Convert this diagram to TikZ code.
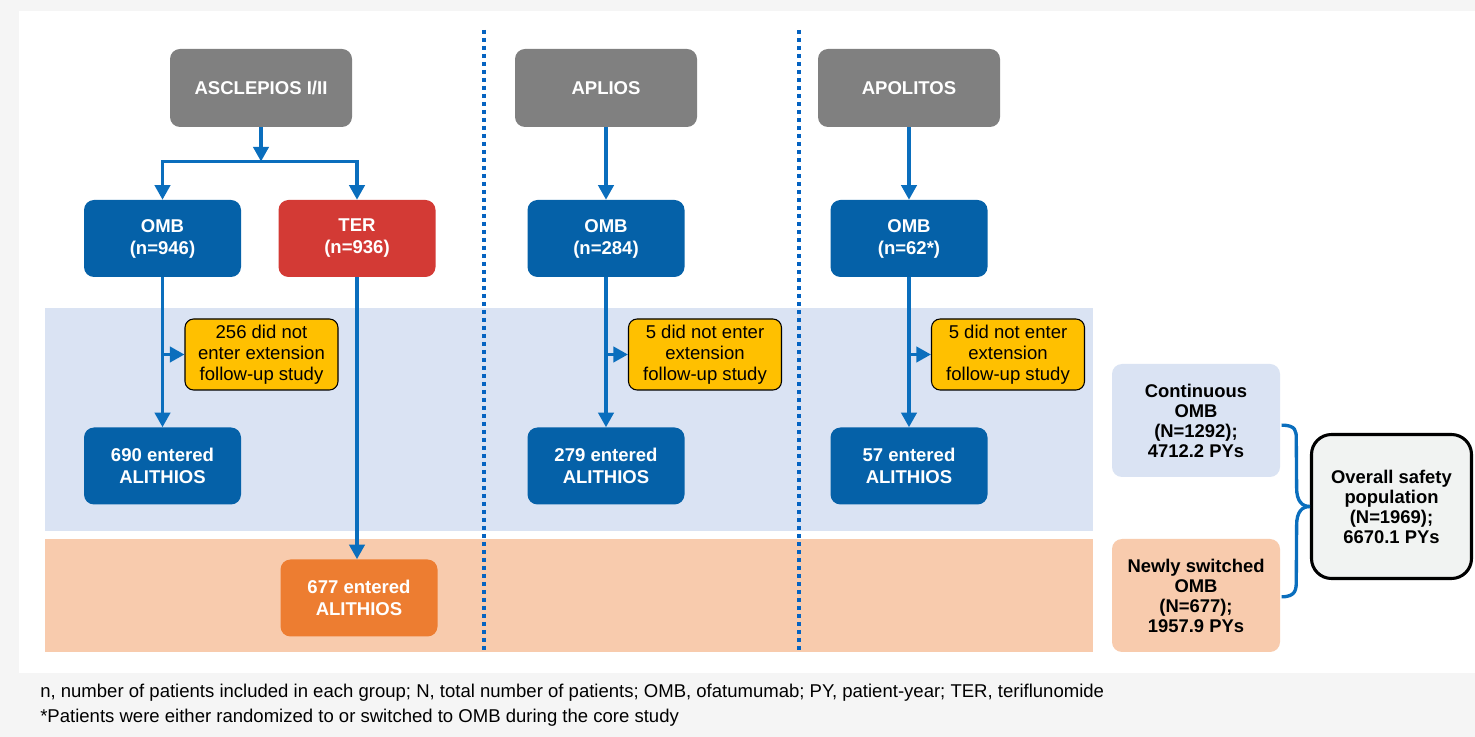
\documentclass[tikz,border=0pt]{standalone}
\usepackage{fontspec}
\setmainfont{Liberation Sans}
\usetikzlibrary{arrows.meta}
\definecolor{pagebg}{HTML}{F5F5F5}
\definecolor{bandblue}{HTML}{DAE3F3}
\definecolor{bandorange}{HTML}{F8CBAD}
\definecolor{boxgray}{HTML}{808080}
\definecolor{boxblue}{HTML}{0561A8}
\definecolor{boxred}{HTML}{D33A35}
\definecolor{boxorange}{HTML}{ED7D31}
\definecolor{boxyellow}{HTML}{FFC000}
\definecolor{arrowblue}{HTML}{0A6EBD}
\definecolor{dotblue}{HTML}{0563C1}
\definecolor{overallfill}{HTML}{F1F3F2}
\begin{document}
\begin{tikzpicture}[x=0.75pt,y=-0.75pt,
  base/.style={rounded corners=7.5pt, align=center, inner sep=0pt,
    font=\fontsize{13.9}{16.5}\selectfont\bfseries},
  studybox/.style={base, fill=boxgray, text=white, minimum width=136.5pt, minimum height=58.5pt},
  armbox/.style={base, text=white, minimum width=117.75pt, minimum height=57.75pt},
  notebox/.style={rounded corners=6.5pt, align=center, inner sep=0pt, draw=black, line width=0.8pt,
    fill=boxyellow, minimum width=114.75pt, minimum height=53.25pt,
    font=\fontsize{13.9}{15.75}\selectfont},
  popbox/.style={base, text=black, minimum width=126pt, minimum height=84.75pt,
    font=\fontsize{13.8}{15}\selectfont\bfseries},
  arr/.style={draw=arrowblue, line width=2.5pt, -{Triangle[length=11pt,width=11.5pt]}},
  sep/.style={draw=dotblue, line width=3pt, dash pattern=on 3pt off 3pt},
  brace/.style={draw=arrowblue, line width=2.5pt}
]
\useasboundingbox (0,0) rectangle (1475,737);
\fill[pagebg] (0,0) rectangle (1475,737);
\fill[white] (19,11) rectangle (1475,673);
\fill[bandblue] (45,308) rectangle (1093,531);
\fill[bandorange] (45,539) rectangle (1093,652);

\draw[sep] (484,30) -- (484,651);
\draw[sep] (799,30) -- (799,651);

% study boxes
\node[studybox] (asc) at (261,88) {ASCLEPIOS I/II};
\node[studybox] (apl) at (606,88) {APLIOS};
\node[studybox] (apo) at (909,88) {APOLITOS};

% arms
\node[armbox, fill=boxblue] (omb1) at (162.5,238.5) {OMB\\(n=946)};
\node[armbox, fill=boxred] (ter) at (357,238.5) {TER\\(n=936)};
\node[armbox, fill=boxblue] (omb2) at (606,238.5) {OMB\\(n=284)};
\node[armbox, fill=boxblue] (omb3) at (909,238.5) {OMB\\(n=62*)};

% not entered
\node[notebox] (n1) at (261.5,354.5) {256 did not\\enter extension\\follow-up study};
\node[notebox] (n2) at (705,354.5) {5 did not enter\\extension\\follow-up study};
\node[notebox] (n3) at (1008,354.5) {5 did not enter\\extension\\follow-up study};

% entered
\node[armbox, fill=boxblue] (e1) at (162.5,466) {690 entered\\ALITHIOS};
\node[armbox, fill=boxorange] (e2) at (359,598) {677 entered\\ALITHIOS};
\node[armbox, fill=boxblue] (e3) at (606,466) {279 entered\\ALITHIOS};
\node[armbox, fill=boxblue] (e4) at (909,466) {57 entered\\ALITHIOS};

% populations
\node[popbox, fill=bandblue] (cont) at (1196,420.5) {Continuous\\OMB\\(N=1292);\\4712.2 PYs};
\node[popbox, fill=bandorange] (newly) at (1196,595.5) {Newly switched\\OMB\\(N=677);\\1957.9 PYs};
\node[popbox, fill=overallfill, draw=black, line width=2.3pt, rounded corners=15pt,
  minimum width=120pt, minimum height=108pt, font=\fontsize{13.8}{15}\selectfont\bfseries]
  (all) at (1391.5,506.5) {Overall safety\\population\\(N=1969);\\6670.1 PYs};

% ASCLEPIOS split
\coordinate (br) at (261,161.5);
\draw[arr] (asc.south) -- (br);
\draw[arr] (br) -| (omb1.north);
\draw[arr] (br) -| (ter.north);
\draw[arr] (apl.south) -- (omb2.north);
\draw[arr] (apo.south) -- (omb3.north);

% down to entered
\draw[arr] (omb1.south) -- (e1.north);
\draw[arr] (ter.south) -- (ter.south |- e2.north);
\draw[arr] (omb2.south) -- (e3.north);
\draw[arr] (omb3.south) -- (e4.north);

% side arrows
\draw[arr] (omb1.south |- n1.west) -- (n1.west);
\draw[arr] (omb2.south |- n2.west) -- (n2.west);
\draw[arr] (omb3.south |- n3.west) -- (n3.west);

% brace
\draw[brace] ([xshift=1pt,yshift=-3.5pt]cont.east) .. controls ([xshift=12pt,yshift=-3.5pt]cont.east) and ([xshift=12pt,yshift=-8pt]cont.east) .. ([xshift=12pt,yshift=-14pt]cont.east)
  -- ([xshift=-10pt,yshift=14pt]all.west) .. controls ([xshift=-10pt,yshift=4pt]all.west) and ([xshift=-6pt]all.west) .. (all.west);
\draw[brace] ([xshift=1pt,yshift=-1pt]newly.east) .. controls ([xshift=12pt,yshift=-1pt]newly.east) and ([xshift=12pt,yshift=5pt]newly.east) .. ([xshift=12pt,yshift=11pt]newly.east)
  -- ([xshift=-10pt,yshift=-14pt]all.west) .. controls ([xshift=-10pt,yshift=-4pt]all.west) and ([xshift=-6pt]all.west) .. (all.west);

% footnotes
\node[anchor=west, inner sep=0pt, font=\fontsize{13.9}{16}\selectfont] (fn1) at (40,693)
  {n, number of patients included in each group; N, total number of patients; OMB, ofatumumab; PY, patient-year; TER, teriflunomide};
\node[anchor=west, inner sep=0pt, font=\fontsize{13.9}{16}\selectfont] (fn2) at (40,718)
  {*Patients were either randomized to or switched to OMB during the core study};
\end{tikzpicture}
\end{document}
